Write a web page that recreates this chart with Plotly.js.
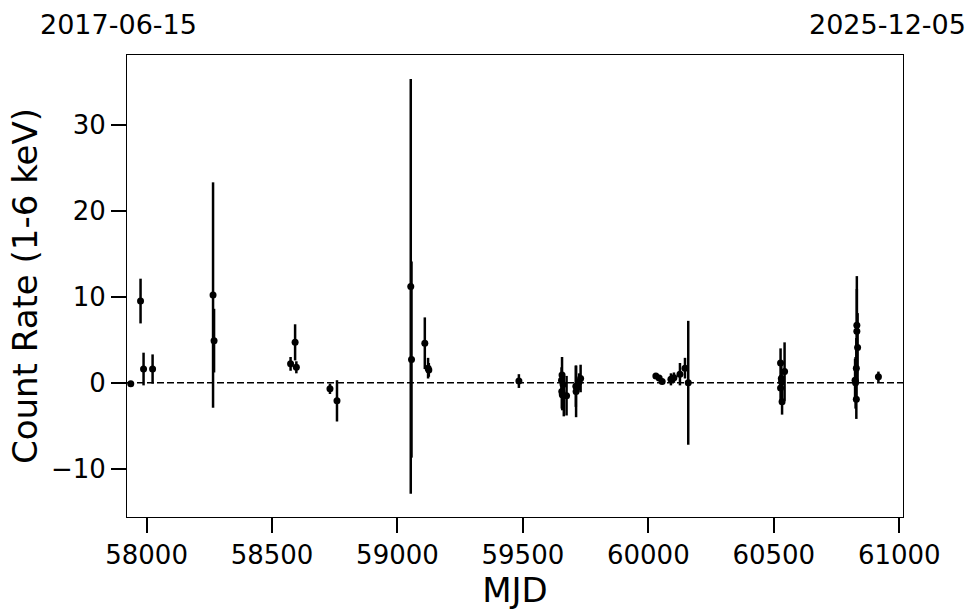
<!DOCTYPE html>
<html>
<head>
<meta charset="utf-8">
<script src="https://cdn.plot.ly/plotly-3.0.1.min.js"></script>
<style>html,body{margin:0;padding:0;background:#fff;}#chart{width:980px;height:613px;}</style>
</head>
<body>
<div id="chart"></div>
<script>
// Observation epochs (MJD)
const mjd = [57937, 57976, 57988, 58024, 58265, 58269, 58574, 58592, 58597, 58731, 58759,
  59053, 59056, 59109, 59122, 59125, 59484,
  59656, 59654, 59660, 59655, 59657, 59663, 59674, 59711, 59712, 59730, 59724,
  60030, 60043, 60055, 60090, 60102, 60126, 60146, 60159,
  60527, 60543, 60530, 60531, 60527, 60533,
  60831, 60831, 60834, 60829, 60824, 60826, 60829, 60917];
// Count rate (1-6 keV)
const rate = [-0.1, 9.5, 1.6, 1.6, 10.2, 4.9, 2.2, 4.7, 1.8, -0.7, -2.1,
  11.2, 2.7, 4.6, 1.7, 1.5, 0.2,
  0.9, 0.3, -0.2, -1.0, -1.4, -1.5, -1.5, -0.4, -1.0, 0.5, 0.1,
  0.8, 0.55, 0.15, 0.4, 0.6, 1.0, 1.7, 0.0,
  2.3, 1.3, 0.5, 0.1, -0.6, -2.2,
  6.7, 6.0, 4.1, 1.7, 0.3, 0.0, -1.9, 0.7];
// 1-sigma uncertainties
const rateErr = [0.1, 2.6, 1.9, 1.7, 13.1, 3.7, 0.8, 2.1, 0.7, 0.6, 2.4,
  24.1, 11.4, 3.0, 1.2, 0.8, 0.8,
  2.1, 1.5, 1.3, 2.0, 1.8, 2.4, 2.3, 2.4, 3.0, 1.6, 1.0,
  0.15, 0.15, 0.1, 0.7, 0.6, 1.3, 1.2, 7.2,
  1.7, 3.4, 1.5, 1.5, 1.5, 1.5,
  5.7, 4.9, 4.0, 3.5, 2.5, 3.0, 2.3, 0.6];
const xTicks = [58000, 58500, 59000, 59500, 60000, 60500, 61000];
const yTicks = [-10, 0, 10, 20, 30];
const startDate = "2017-06-15";
const endDate = "2025-12-05";
const mjdRange = [57922, 61015];
const rateRange = [-15.6, 38.1];

const font = "DejaVu Sans, Arial, sans-serif";

const trace = {
  x: mjd, y: rate, type: "scatter", mode: "markers",
  marker: {color: "#000", size: 7},
  error_y: {type: "data", array: rateErr, visible: true, color: "#000", thickness: 2.5, width: 0},
  hoverinfo: "x+y"
};

const layout = {
  width: 980, height: 613,
  paper_bgcolor: "#fff", plot_bgcolor: "#fff",
  margin: {l: 127, r: 77, t: 55, b: 96},
  showlegend: false,
  font: {family: font, color: "#000"},
  xaxis: {
    range: mjdRange, tickvals: xTicks, ticktext: xTicks.map(String),
    ticks: "outside", ticklen: 15, tickwidth: 2, tickcolor: "#000",
    showgrid: false, zeroline: false,
    showline: true, linecolor: "#000", linewidth: 1, mirror: true,
    tickfont: {size: 26, family: font},
    title: {text: "MJD", font: {size: 34, family: font}, standoff: 3}
  },
  yaxis: {
    range: rateRange, tickvals: yTicks,
    ticks: "outside", ticklen: 15, tickwidth: 2, tickcolor: "#000",
    showgrid: false, zeroline: false,
    showline: true, linecolor: "#000", linewidth: 1, mirror: true,
    tickfont: {size: 26, family: font},
    title: {text: "Count Rate (1-6 keV)", font: {size: 34, family: font}, standoff: 3}
  },
  shapes: [{
    type: "line", xref: "paper", x0: 0, x1: 1, yref: "y", y0: 0, y1: 0,
    line: {color: "#000", width: 1.5, dash: "7px,3px"}, layer: "below"
  }],
  annotations: [
    {text: startDate, xref: "paper", yref: "paper", x: -0.1147, y: 1.066,
     xanchor: "left", yanchor: "middle", showarrow: false, font: {size: 27, family: font}},
    {text: endDate, xref: "paper", yref: "paper", x: 1.0838, y: 1.066,
     xanchor: "right", yanchor: "middle", showarrow: false, font: {size: 27, family: font}}
  ]
};

Plotly.newPlot("chart", [trace], layout, {displayModeBar: false, staticPlot: true});
</script>
</body>
</html>
